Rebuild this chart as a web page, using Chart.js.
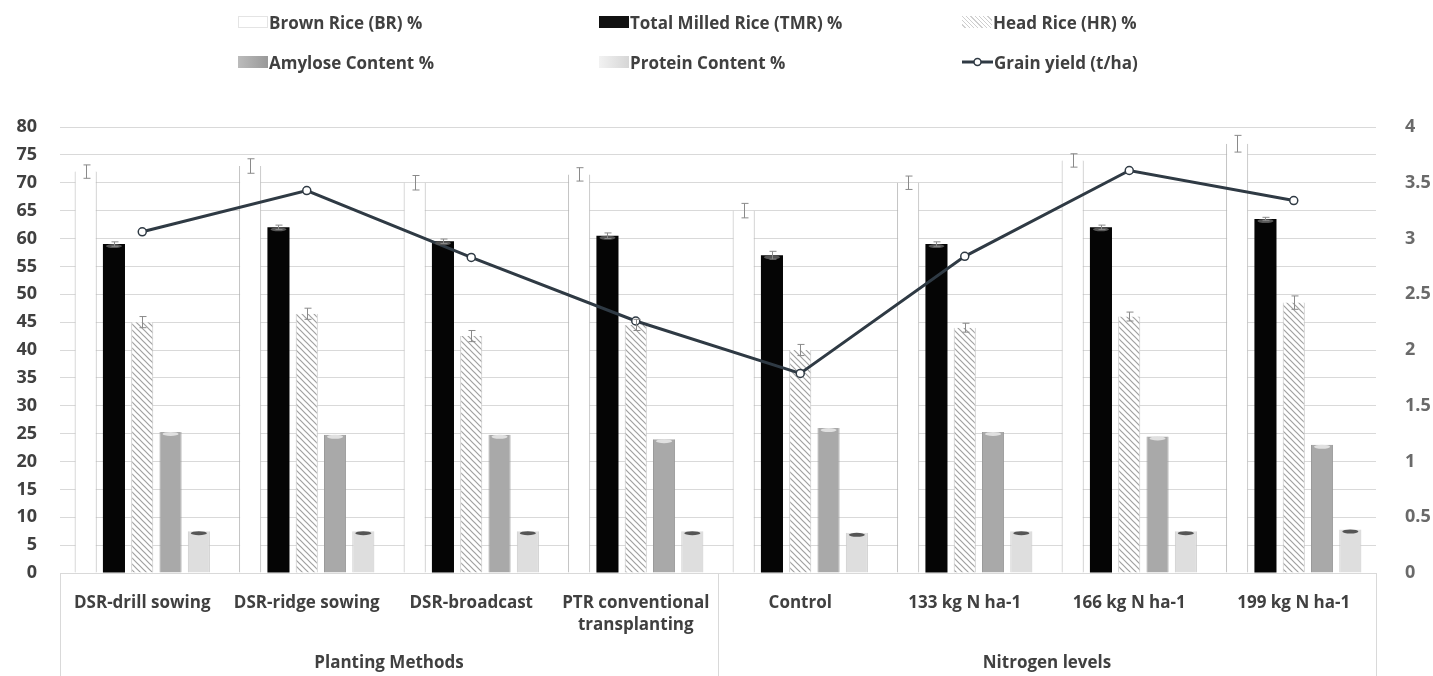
<!DOCTYPE html>
<html>
<head>
<meta charset="utf-8">
<script src="https://cdn.jsdelivr.net/npm/chart.js@4"></script>
<style>
  html, body { margin: 0; padding: 0; background: #fff; }
  #wrap { position: relative; width: 1433px; height: 676px; }
  #legend { position: absolute; left: 0; top: 0; width: 1433px; height: 80px;
            font-family: "Open Sans", sans-serif; font-weight: bold; font-size: 17px; color: #404040; }
  .item { position: absolute; display: flex; align-items: center; white-space: nowrap; }
  .sw { width: 30px; height: 12px; box-sizing: border-box; margin-right: 1px; }
</style>
</head>
<body>
<div id="wrap">
  <canvas id="myChart"></canvas>
  <div id="legend"></div>
</div>
<script>
// categories and groups
const categories = ['DSR-drill sowing', 'DSR-ridge sowing', 'DSR-broadcast', ['PTR conventional', 'transplanting'],
                    'Control', '133 kg N ha-1', '166 kg N ha-1', '199 kg N ha-1'];
const groupNames = ['Planting Methods', 'Nitrogen levels'];
const groupSizes = [4, 4];

// series values
const brownRice   = [72, 73, 70, 71.5, 65, 70, 74, 77];
const milledRice  = [59, 62, 59.5, 60.5, 57, 59, 62, 63.5];
const headRice    = [45, 46.5, 42.5, 44.5, 40, 44, 46, 48.5];
const amylose     = [25.3, 24.8, 24.8, 24, 26, 25.3, 24.5, 23];
const protein     = [7.5, 7.5, 7.5, 7.5, 7.2, 7.5, 7.5, 7.8];
const grainYield  = [3.06, 3.43, 2.83, 2.26, 1.79, 2.84, 3.61, 3.34];

// error bar half widths
const brownErr = [1.2, 1.3, 1.3, 1.2, 1.3, 1.2, 1.2, 1.5];
const headErr  = [1.0, 1.0, 1.0, 1.0, 1.0, 0.8, 0.8, 1.2];
const millErr  = [0.4, 0.4, 0.4, 0.5, 0.7, 0.4, 0.4, 0.3];

const leftTicks = [0, 80, 5];
const rightTicks = [0, 4, 0.5];

const FONT = '"Open Sans", sans-serif';

const ctx = document.getElementById('myChart');
const c2d = ctx.getContext('2d');

function hatch() {
  const c = document.createElement('canvas');
  c.width = 6; c.height = 6;
  const g = c.getContext('2d');
  g.fillStyle = '#fff'; g.fillRect(0, 0, 6, 6);
  g.strokeStyle = '#a0a0a0'; g.lineWidth = 1.2;
  g.beginPath();
  g.moveTo(0, 0); g.lineTo(6, 6);
  g.moveTo(-1, 5); g.lineTo(1, 7);
  g.moveTo(5, -1); g.lineTo(7, 1);
  g.stroke();
  return c2d.createPattern(c, 'repeat');
}

// legend built by hand so the columns line up
const legendItems = [
  { x: 238, y: 22, label: 'Brown Rice (BR) %', css: 'background:#fff;border:1px solid #e4e4e4;' },
  { x: 599, y: 22, label: 'Total Milled Rice (TMR) %', css: 'background:#111;' },
  { x: 962, y: 22, label: 'Head Rice (HR) %', css: 'background:repeating-linear-gradient(45deg,#fff 0 2px,#cfcfcf 2px 3px);' },
  { x: 238, y: 62, label: 'Amylose Content %', css: 'background:linear-gradient(90deg,#bbb,#999);' },
  { x: 599, y: 62, label: 'Protein Content %', css: 'background:linear-gradient(90deg,#f2f2f2,#d6d6d6);' },
  { x: 962, y: 62, label: 'Grain yield (t/ha)', line: true }
];
const legendDiv = document.getElementById('legend');
legendItems.forEach(function(it) {
  const d = document.createElement('div');
  d.className = 'item';
  d.style.left = it.x + 'px';
  d.style.top = (it.y - 11) + 'px';
  d.style.height = '22px';
  let sw;
  if (it.line) {
    sw = '<svg width="31" height="12" style="margin-right:1px"><line x1="0" y1="6" x2="31" y2="6" stroke="#2f3a44" stroke-width="3"/>' +
         '<circle cx="15.5" cy="6" r="3.5" fill="#fff" stroke="#2f3a44" stroke-width="1.5"/></svg>';
  } else {
    sw = '<div class="sw" style="' + it.css + '"></div>';
  }
  d.innerHTML = sw + '<span>' + it.label + '</span>';
  legendDiv.appendChild(d);
});

// error bars, bar caps, group borders and group labels
const extras = {
  id: 'extras',
  afterDatasetsDraw(chart) {
    const g = chart.ctx;
    const y = chart.scales.y;
    g.save();
    // little cylinder tops on the solid bars
    [[1, '#555'], [3, '#e0e0e0'], [4, '#555']].forEach(function(c) {
      chart.getDatasetMeta(c[0]).data.forEach(function(bar) {
        g.fillStyle = c[1];
        g.beginPath();
        g.ellipse(bar.x, bar.y + 2, bar.width / 2 - 3, 2, 0, 0, Math.PI * 2);
        g.fill();
      });
    });
    const errs = [[0, brownRice, brownErr], [1, milledRice, millErr], [2, headRice, headErr]];
    g.strokeStyle = '#8a8a8a';
    g.lineWidth = 1;
    errs.forEach(function(e) {
      const meta = chart.getDatasetMeta(e[0]);
      meta.data.forEach(function(bar, i) {
        const x = Math.round(bar.x) + 0.5;
        const top = y.getPixelForValue(e[1][i] + e[2][i]);
        const bot = y.getPixelForValue(e[1][i] - e[2][i]);
        g.beginPath();
        g.moveTo(x, top); g.lineTo(x, bot);
        g.moveTo(x - 3, top); g.lineTo(x + 4, top);
        g.moveTo(x - 3, bot); g.lineTo(x + 4, bot);
        g.stroke();
      });
    });
    g.restore();
  },
  afterDraw(chart) {
    const g = chart.ctx;
    const a = chart.chartArea;
    const xs = chart.scales.x;
    const step = (a.right - a.left) / categories.length;
    g.save();
    g.strokeStyle = '#d9d9d9';
    g.lineWidth = 1;
    let idx = 0;
    const edges = [a.left];
    groupSizes.forEach(function(n) { idx += n; edges.push(a.left + idx * step); });
    edges.forEach(function(ex) {
      g.beginPath();
      g.moveTo(Math.round(ex) + 0.5, a.bottom);
      g.lineTo(Math.round(ex) + 0.5, chart.height);
      g.stroke();
    });
    g.fillStyle = '#404040';
    g.font = 'bold 17px ' + FONT;
    g.textAlign = 'center';
    g.textBaseline = 'middle';
    idx = 0;
    groupNames.forEach(function(name, k) {
      const first = xs.getPixelForValue(idx);
      const last = xs.getPixelForValue(idx + groupSizes[k] - 1);
      g.fillText(name, (first + last) / 2, 663);
      idx += groupSizes[k];
    });
    g.restore();
  }
};

const barBase = { barPercentage: 0.78, categoryPercentage: 0.86, yAxisID: 'y', order: 1 };

const myChart = new Chart(ctx, {
  type: 'bar',
  data: {
    labels: categories,
    datasets: [
      Object.assign({ label: 'Brown Rice (BR) %', data: brownRice, backgroundColor: '#ffffff',
        borderColor: '#b4b4b4', borderWidth: { left: 1, right: 1, top: 0, bottom: 0 } }, barBase),
      Object.assign({ label: 'Total Milled Rice (TMR) %', data: milledRice, backgroundColor: '#050505' }, barBase),
      Object.assign({ label: 'Head Rice (HR) %', data: headRice, backgroundColor: hatch(),
        borderColor: '#c4c4c4', borderWidth: { left: 1, right: 1, top: 0, bottom: 0 } }, barBase),
      Object.assign({ label: 'Amylose Content %', data: amylose, backgroundColor: '#a9a9a9',
        borderColor: '#9a9a9a', borderWidth: { left: 1, right: 1, top: 0, bottom: 0 } }, barBase),
      Object.assign({ label: 'Protein Content %', data: protein, backgroundColor: '#dedede',
        borderColor: '#c8c8c8', borderWidth: { left: 1, right: 1, top: 0, bottom: 0 } }, barBase),
      { type: 'line', label: 'Grain yield (t/ha)', data: grainYield, yAxisID: 'y1', order: 0,
        borderColor: '#2f3a44', borderWidth: 3, pointRadius: 4, pointBackgroundColor: '#fff',
        pointBorderColor: '#2f3a44', pointBorderWidth: 1.5, tension: 0 }
    ]
  },
  options: {
    responsive: true,
    maintainAspectRatio: false,
    animation: false,
    layout: { padding: { top: 127, left: 0, right: 0, bottom: 0 } },
    plugins: { legend: { display: false }, tooltip: { enabled: false } },
    scales: {
      x: {
        grid: { display: false },
        border: { display: true, color: '#d9d9d9' },
        ticks: { padding: 11, color: '#404040', maxRotation: 0, autoSkip: false,
                 font: { family: FONT, size: 17, weight: 'bold', lineHeight: 1.3 } },
        afterFit(scale) { scale.height = 103; }
      },
      y: {
        position: 'left',
        min: leftTicks[0], max: leftTicks[1],
        grid: { color: '#d9d9d9', drawTicks: false },
        border: { display: false },
        ticks: { stepSize: leftTicks[2], padding: 23, color: '#404040',
                 font: { family: FONT, size: 18, weight: 'bold' } },
        afterFit(scale) { scale.width = 60; }
      },
      y1: {
        position: 'right',
        min: rightTicks[0], max: rightTicks[1],
        grid: { display: false, drawTicks: false },
        border: { display: false },
        ticks: { stepSize: rightTicks[2], padding: 29, color: '#6a6a6a',
                 font: { family: FONT, size: 18, weight: 'bold' },
                 callback: function(v) { return String(v); } },
        afterFit(scale) { scale.width = 57; }
      }
    }
  },
  plugins: [extras]
});
</script>
</body>
</html>
